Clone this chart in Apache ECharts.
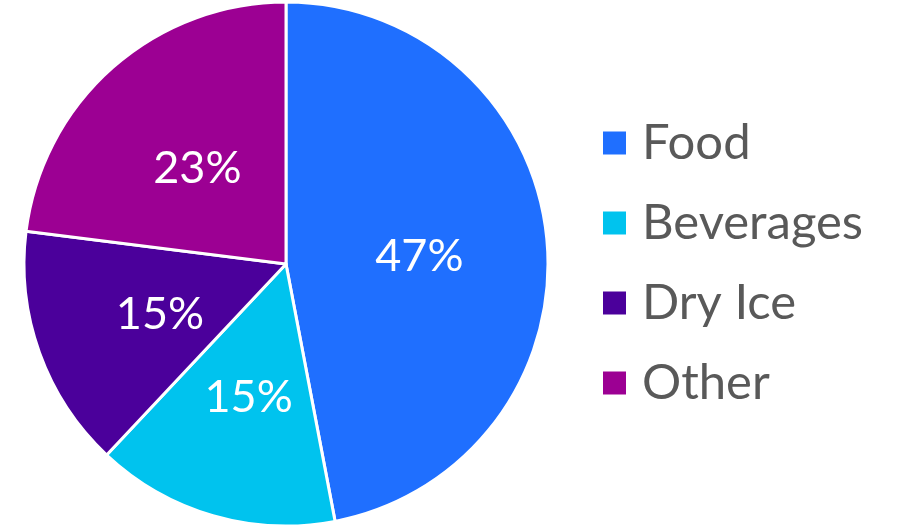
<!DOCTYPE html>
<html><head><meta charset="utf-8">
<script src="https://cdn.jsdelivr.net/npm/echarts@6/dist/echarts.min.js"></script>
<style>html,body{margin:0;padding:0;background:#fff}#c{width:897px;height:526px}</style>
</head><body><div id="c"></div>
<script>
const categories = ["Food", "Beverages", "Dry Ice", "Other"];
const values = [47, 15, 15, 23];
const colors = ["#1F6FFF", "#00C3EE", "#4B009B", "#9C0093"];

const chart = echarts.init(document.getElementById('c'), null, {renderer: 'canvas'});
chart.setOption({
  animation: false,
  backgroundColor: '#ffffff',
  color: colors,
  legend: {
    orient: 'vertical',
    left: 601,
    top: 103,
    padding: 0,
    itemGap: 0,
    itemWidth: 25,
    itemHeight: 25,
    icon: 'rect',
    textStyle: {fontFamily: 'Lato', fontSize: 49, color: '#595959', lineHeight: 80, padding: [0, 0, 0, 10]},
    data: categories
  },
  series: [{
    type: 'pie',
    center: [286, 264],
    radius: 262,
    startAngle: 90,
    clockwise: true,
    itemStyle: {borderColor: '#ffffff', borderWidth: 3},
    label: {show: true, position: 'inside', formatter: '{c}%', color: '#ffffff', fontFamily: 'Lato', fontSize: 45, offset: [0, 5]},
    labelLine: {show: false},
    data: categories.map((n, i) => ({name: n, value: values[i]}))
  }]
});
</script></body></html>
